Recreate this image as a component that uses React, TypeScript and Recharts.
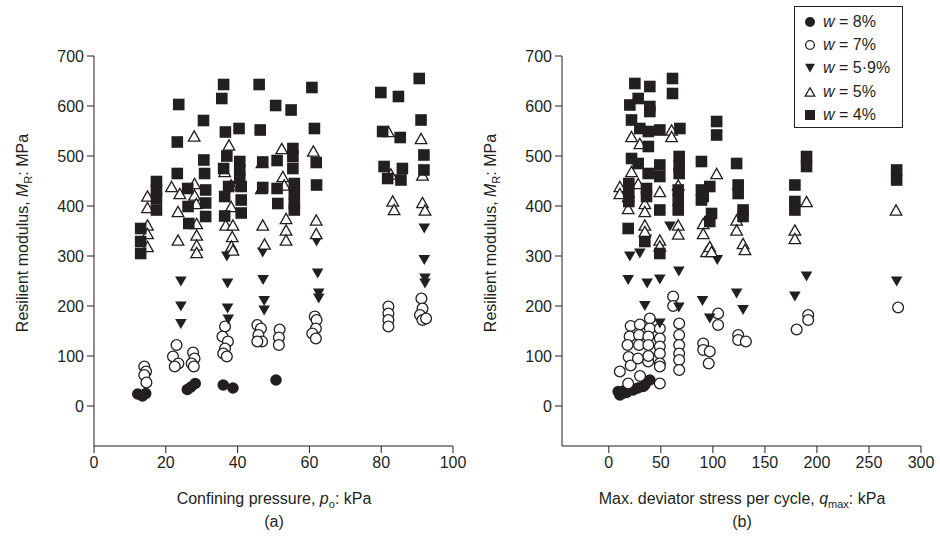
import { ScatterChart, Scatter, XAxis, YAxis } from "recharts";

const FONT = "'Liberation Sans Narrow', 'Liberation Sans', Arial, sans-serif";
const INK = "#231f20";

// tick labels
const confTicks = [0, 20, 40, 60, 80, 100];
const devTicks = [0, 50, 100, 150, 200, 250, 300];
const modTicks = [0, 100, 200, 300, 400, 500, 600, 700];

// legend entries
const seriesNames = ["w = 8%", "w = 7%", "w = 5·9%", "w = 5%", "w = 4%"];

// (a) confining pressure kPa, resilient modulus MPa
const confW8 = [
  [12.2, 24], [14.4, 25], [13.5, 20], [26, 33], [28.2, 45], [27, 38], [36, 42], [38.7, 36], [50.7, 52],
];
const confW7 = [
  [14, 79], [14.5, 69], [14, 62], [14.6, 47],
  [23, 122], [22, 99], [23.5, 85], [22.5, 79],
  [27.6, 107], [28, 95], [27.2, 85], [27.8, 79],
  [36.5, 159], [35.8, 139], [37.3, 129], [36.5, 115], [36, 105], [37, 99],
  [45.5, 162], [46.5, 155], [45.8, 142], [46.8, 129], [45.5, 129],
  [51.7, 153], [51.5, 137], [51.5, 122],
  [61.5, 179], [62, 172], [61.8, 155], [60.8, 145], [61.8, 135],
  [82, 199], [82, 185], [82, 172], [82, 159],
  [91.2, 215], [91.5, 195], [90.8, 182], [91.5, 172], [92.5, 175],
];
const confW59 = [
  [24.2, 249], [24.2, 199], [24.2, 164],
  [37, 299], [37.2, 245], [37.2, 195], [37.4, 173],
  [47, 307], [47.1, 252], [47.4, 210], [47.4, 191],
  [62, 329], [62.3, 265], [62.6, 225], [62.6, 215],
  [92, 355], [92, 292], [92.2, 255], [92.2, 245],
];
const confW5 = [
  [14.9, 420], [14.9, 397], [14.9, 362], [14.9, 345], [14.9, 319],
  [21.6, 439], [23.9, 425], [23.4, 389], [23.4, 332],
  [27.9, 540], [28, 445], [28, 422], [28.5, 405], [28.6, 365], [28.6, 342], [28.6, 322], [28.6, 307],
  [37.6, 522], [36.4, 469], [38.2, 442], [38.2, 399], [36.7, 362], [38.7, 362], [38.5, 339], [38.3, 320], [38.7, 312],
  [46.8, 487], [46.6, 435], [47, 362], [47.5, 324],
  [52.3, 515], [52.6, 459], [53, 442], [53.5, 375], [53.5, 352], [53.5, 332],
  [61.1, 510], [61.9, 372], [61.9, 345],
  [82, 549], [82.7, 464], [83.2, 410], [83.6, 393],
  [91.1, 535], [91.5, 462], [91.5, 407], [92.2, 392],
];
const confW4 = [
  [13, 355], [13, 329], [13, 305],
  [17.4, 449], [17.4, 432], [17.4, 415], [17.4, 392],
  [23.6, 603], [23.2, 528], [23.2, 465],
  [26.1, 435], [26.2, 399], [26.4, 365],
  [30.5, 571], [30.6, 492], [30.8, 465], [31.1, 432], [31.1, 406], [31.1, 379],
  [36.1, 643], [35.6, 615], [36.6, 548], [37, 500], [36.1, 475], [37.5, 439], [36.4, 419], [36.4, 380],
  [40.4, 555], [40.6, 489], [40.6, 472], [40.6, 455], [41, 439], [41, 412], [41, 386],
  [46, 643], [46.3, 552], [47, 488], [47, 437],
  [50.6, 601], [51, 491], [51, 435], [51.2, 405],
  [54.9, 592], [55.4, 515], [55.4, 499], [55.4, 475], [55.8, 445], [55.8, 425], [55.8, 405], [55.8, 392],
  [60.7, 637], [61.4, 555], [61.9, 487], [62, 442],
  [79.9, 627], [80.4, 549], [80.8, 479], [81.8, 455],
  [84.8, 619], [85.3, 537], [85.9, 475], [85.5, 452],
  [90.6, 655], [91.1, 572], [91.9, 502], [91.9, 472],
];

// (b) max deviator stress kPa, resilient modulus MPa
const devW8 = [
  [9, 29], [13, 25], [10.6, 22], [17, 27], [20, 33], [23.4, 32], [28, 36], [33, 39], [34.6, 42], [39.4, 52], [14, 30],
];
const devW7 = [
  [10.6, 69],
  [21, 160], [20, 139], [18, 122], [19, 98], [21, 81], [18.6, 45],
  [29.8, 163], [29, 142], [29, 122], [28, 95], [30, 60],
  [39.4, 175], [39.4, 155], [38, 139], [38, 122], [37.8, 89], [38, 100],
  [49, 155], [49, 135], [49, 119], [49, 105], [49, 85], [49, 79], [49, 45],
  [61.8, 219], [61.8, 200],
  [67.6, 165], [67.6, 142], [67.6, 122], [67.6, 105], [67.6, 92], [67.6, 72],
  [90.7, 125], [90.7, 112], [97, 109], [96, 85],
  [105, 185], [105, 162],
  [124.3, 142], [124.3, 132], [131.7, 129],
  [180.5, 153], [191.6, 182], [191.6, 172],
  [278, 197],
];
const devW59 = [
  [20.2, 299], [29.8, 305], [58.7, 359], [36, 333], [18.6, 252], [36.8, 245], [49, 253], [67.3, 269],
  [34.6, 200], [67.3, 197], [49, 165], [90, 210], [97, 175], [104.2, 292], [122.8, 225], [129, 192],
  [190, 259], [178.8, 219], [276.6, 249],
];
const devW5 = [
  [10.6, 439], [10.6, 425], [18.6, 419], [18.6, 395], [21.8, 539], [21.8, 469], [28.2, 445], [29.8, 525],
  [34.6, 405], [34.6, 389], [34.6, 362], [34.6, 349], [49, 429], [49, 332], [49, 320], [60.3, 552], [60.3, 539],
  [66.7, 442], [66.7, 362], [66.7, 344], [90.7, 365], [90.7, 345], [94, 309], [103.6, 465], [122.8, 372],
  [122.8, 352], [97, 319], [98.7, 309], [129, 325], [130.8, 313], [178.8, 352], [178.8, 335], [190, 409], [276, 392],
];
const devW4 = [
  [25, 645], [39.4, 639], [61.2, 655], [61.2, 625], [20.2, 602], [28.2, 615], [39.4, 599], [39.4, 589],
  [21.8, 572], [29.8, 555], [38, 549], [38, 519], [49, 552], [68.3, 555], [21.8, 495], [28.2, 485], [37.8, 465],
  [49, 482], [49, 459], [67.6, 499], [67.6, 479], [67.6, 465], [89, 489], [19.2, 445], [19.2, 425], [19.2, 409],
  [36.2, 435], [36.2, 419], [66.7, 432], [66.7, 412], [66.7, 392], [89, 432], [89, 412], [49, 392], [18.6, 355],
  [34.6, 329], [49, 305], [103.6, 569], [103.6, 542], [122.8, 485], [97, 439], [90.7, 419], [124.3, 442],
  [124.3, 425], [98.7, 385], [97, 369], [129, 392], [129, 379], [190, 499], [190, 479], [178.8, 442],
  [178.8, 409], [178.8, 392], [276.6, 472], [276.6, 452],
];

const kinds = ["dot", "ring", "down", "up", "square"];

const toPts = (a: number[][]) => a.map(([x, y]) => ({ x, y }));

function Mark({ cx, cy, kind, s = 5.8 }: { cx: number; cy: number; kind: string; s?: number }) {
  if (cx == null || cy == null) return null;
  if (kind === "dot") return <circle cx={cx} cy={cy} r={s} fill={INK} />;
  if (kind === "ring") return <circle cx={cx} cy={cy} r={s - 0.4} fill="#fff" stroke={INK} strokeWidth={1.3} />;
  if (kind === "square") return <rect x={cx - s} y={cy - s} width={s * 2} height={s * 2} fill={INK} />;
  const h = s * 1.75;
  if (kind === "down")
    return (
      <polygon
        points={`${cx - s},${cy - h / 2} ${cx + s},${cy - h / 2} ${cx},${cy + h / 2}`}
        fill={INK}
      />
    );
  return (
    <polygon
      points={`${cx - s},${cy + h / 2} ${cx + s},${cy + h / 2} ${cx},${cy - h / 2}`}
      fill="#fff"
      stroke={INK}
      strokeWidth={1.3}
    />
  );
}

const tickStyle = { fill: INK, fontSize: 16, fontFamily: FONT };

function LegendBox() {
  return (
    <div
      style={{
        position: "absolute",
        left: 794,
        top: 6,
        border: `1px solid ${INK}`,
        width: 109,
        height: 122,
        background: "#fff",
        boxSizing: "border-box",
        padding: "3px 0 0 6px",
        fontFamily: FONT,
        fontSize: 16,
        color: INK,
      }}
    >
      {seriesNames.map((n, i) => (
        <div key={n} style={{ display: "flex", alignItems: "center", height: 23.3 }}>
          <svg width={18} height={16}>
            <Mark cx={9} cy={8} kind={kinds[i]} s={i === 1 || i === 3 ? 4.8 : 5} />
          </svg>
          <span style={{ marginLeft: 4, whiteSpace: "pre" }}>
            <i>w</i>
            {n.slice(1)}
          </span>
        </div>
      ))}
    </div>
  );
}

function Panel({
  sets,
  xDomain,
  xTicks,
  yWidth,
  right,
}: {
  sets: number[][][];
  xDomain: number[];
  xTicks: number[];
  yWidth: number;
  right: number;
}) {
  return (
    <ScatterChart width={470} height={542} margin={{ top: 56, right, bottom: 56, left: 0 }}>
      <XAxis
        type="number"
        dataKey="x"
        domain={xDomain}
        ticks={xTicks}
        allowDataOverflow
        height={40}
        stroke={INK}
        tick={tickStyle}
        tickSize={7}
        tickMargin={4}
      />
      <YAxis
        type="number"
        dataKey="y"
        domain={[-80, 700]}
        ticks={modTicks}
        allowDataOverflow
        width={yWidth}
        stroke={INK}
        tick={tickStyle}
        tickSize={7}
        tickMargin={3}
      />
      {sets.map((s, i) => (
        <Scatter
          key={i}
          data={toPts(s)}
          isAnimationActive={false}
          shape={(p: any) => <Mark cx={p.cx} cy={p.cy} kind={kinds[i]} />}
        />
      ))}
    </ScatterChart>
  );
}

export default function App() {
  return (
    <div style={{ position: "absolute", left: 0, top: 0, width: 940, height: 542, background: "#fff" }}>
      <div style={{ position: "absolute", left: 0, top: 0 }}>
        <Panel
          sets={[confW8, confW7, confW59, confW5, confW4]}
          xDomain={[0, 100]}
          xTicks={confTicks}
          yWidth={94}
          right={17}
        />
      </div>
      <div style={{ position: "absolute", left: 470, top: 0 }}>
        <Panel
          sets={[devW8, devW7, devW59, devW5, devW4]}
          xDomain={[-45, 300]}
          xTicks={devTicks}
          yWidth={92}
          right={19}
        />
      </div>
      <LegendBox />
      <svg
        width={940}
        height={542}
        style={{ position: "absolute", left: 0, top: 0, pointerEvents: "none" }}
        fontFamily={FONT}
        fontSize={16}
        fill={INK}
      >
        <text x={274} y={504} textAnchor="middle">
          Confining pressure, <tspan fontStyle="italic">p</tspan>
          <tspan fontSize={11} dy={4}>o</tspan>
          <tspan dy={-4}>: kPa</tspan>
        </text>
        <text x={274} y={527} textAnchor="middle">(a)</text>
        <text x={742} y={504} textAnchor="middle">
          Max. deviator stress per cycle, <tspan fontStyle="italic">q</tspan>
          <tspan fontSize={11} dy={4}>max</tspan>
          <tspan dy={-4}>: kPa</tspan>
        </text>
        <text x={742} y={527} textAnchor="middle">(b)</text>
        {[28, 496].map((x) => (
          <text key={x} transform={`translate(${x},233) rotate(-90)`} textAnchor="middle">
            Resilient modulus, <tspan fontStyle="italic">M</tspan>
            <tspan fontSize={11} dy={4}>R</tspan>
            <tspan dy={-4}>: MPa</tspan>
          </text>
        ))}
      </svg>
    </div>
  );
}
